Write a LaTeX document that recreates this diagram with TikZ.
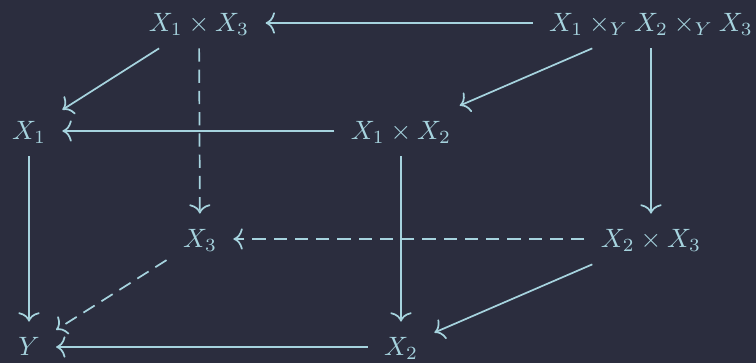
\documentclass[tikz,border=0pt]{standalone}
\usepackage{amsmath}
\usetikzlibrary{arrows.meta}
\definecolor{bgcol}{RGB}{43,45,62}
\definecolor{inkcol}{RGB}{166,211,222}

\begin{document}
\begin{tikzpicture}[x=0.01323cm, y=-0.01323cm,
    obj/.style={text=inkcol, text height=7.5pt, text depth=1.2pt, inner xsep=6pt, inner ysep=5pt},
    map/.style={draw=inkcol, line width=0.65pt, -{To[length=3.5pt,width=8pt]}},
    dmap/.style={map, dash pattern=on 5pt off 3pt}]
\fill[bgcol] (0,0) rectangle (756,363);
\useasboundingbox (0,0) rectangle (756,363);

% back face
\node[obj] (X13) at (199,23) {$X_1\times X_3$};
\node[obj] (X123) at (651,23) {$X_1\times_Y X_2\times_Y X_3$};
\node[obj] (X3) at (200,239) {$X_3$};
\node[obj] (X23) at (651,239) {$X_2\times X_3$};
% front face
\node[obj] (X1) at (29,131) {$X_1$};
\node[obj] (X12) at (401,131) {$X_1\times X_2$};
\node[obj] (Y) at (29,347) {$Y$};
\node[obj] (X2) at (401,347) {$X_2$};

\draw[map] (X123) -- (X13);
\draw[map] (X13) -- (X1);
\draw[map] (X123) -- (X12);
\draw[map] (X123) -- (X23);
\draw[dmap] (X13) -- (X3);
\draw[map] (X12) -- (X1);
\draw[map] (X1) -- (Y);
\draw[map] (X12) -- (X2);
\draw[dmap] (X23) -- (X3);
\draw[dmap] (X3) -- (Y);
\draw[map] (X23) -- (X2);
\draw[map] (X2) -- (Y);

\end{tikzpicture}
\end{document}
